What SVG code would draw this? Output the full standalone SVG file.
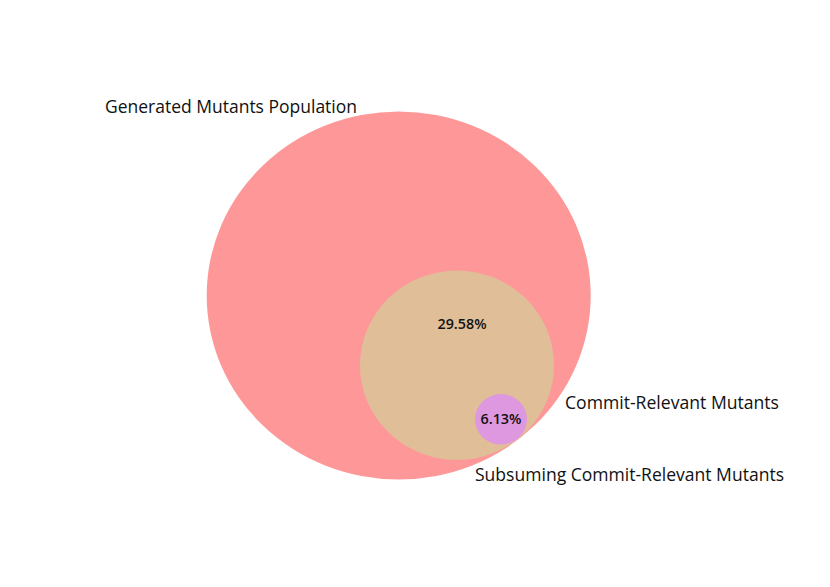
<svg xmlns="http://www.w3.org/2000/svg" width="830" height="587" viewBox="0 0 830 587">
<style>
.lbl{font-family:"Open Sans","Liberation Sans",sans-serif;font-size:19px;fill:#111}
.pct{font-family:"Open Sans","Liberation Sans",sans-serif;font-size:14.5px;fill:#111;text-anchor:middle;font-weight:600}
</style>
<rect width="830" height="587" fill="#fff"/>
<g id="population">
<ellipse cx="398.7" cy="295.5" rx="192" ry="184" fill="#FE9898"/>
<text class="lbl" x="105" y="113" textLength="252" lengthAdjust="spacingAndGlyphs">Generated Mutants Population</text>
</g>
<g id="commit-relevant">
<ellipse cx="457" cy="365.3" rx="97" ry="94.7" fill="#E0BE98"/>
<text class="pct" x="462" y="329" textLength="49" lengthAdjust="spacingAndGlyphs">29.58%</text>
<text class="lbl" x="565" y="409" textLength="214" lengthAdjust="spacingAndGlyphs">Commit-Relevant Mutants</text>
</g>
<g id="subsuming">
<ellipse cx="501" cy="419.3" rx="26" ry="25.3" fill="#DE98DF"/>
<text class="pct" x="501" y="424" textLength="41" lengthAdjust="spacingAndGlyphs">6.13%</text>
<text class="lbl" x="475" y="481" textLength="309" lengthAdjust="spacingAndGlyphs">Subsuming Commit-Relevant Mutants</text>
</g>
<g id="connectors"/>
</svg>
